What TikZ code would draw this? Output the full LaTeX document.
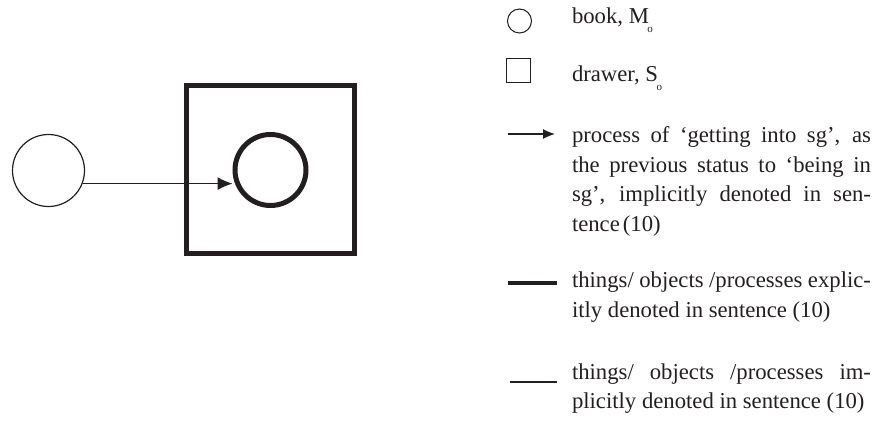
\documentclass[tikz,border=0pt]{standalone}
\usepackage{fontspec}
\setmainfont{Liberation Serif}
\usetikzlibrary{arrows.meta}
\definecolor{ink}{HTML}{231F20}
\newcommand{\jline}[1]{\hbox to 299pt{#1}}
\newcommand{\subo}{\kern-1.5pt\raisebox{-9pt}{\fontsize{11}{11}\selectfont o}}
\begin{document}
\begin{tikzpicture}[x=1pt,y=-1pt,
  lbl/.style={anchor=base west, inner sep=0pt, outer sep=0pt, font=\fontsize{22.7}{29.5}\selectfont, text=ink},
  thinround/.style={draw=ink, line width=1.2pt, circle, inner sep=0pt},
  thickround/.style={draw=ink, line width=5pt, circle, inner sep=0pt},
  thickbox/.style={draw=ink, line width=5pt, inner sep=0pt},
  thinbox/.style={draw=ink, line width=1.2pt, inner sep=0pt},
  proc/.style={draw=ink, line width=1.2pt}]
\useasboundingbox (0,0) rectangle (879,422);
% main diagram
\node[thinround, minimum size=72pt] (book) at (48.5,170.5) {};
\node[thickbox, minimum size=168pt] (drawer) at (270.5,170) {};
\node[thickround, minimum size=71pt] (bookin) at (270.5,170) {};
\draw[proc, -{Latex[length=15pt,width=13pt]}] (book.-21.7) -- (book.-21.7 -| bookin.west);
% legend symbols
\node[thinround, line width=1pt, minimum size=24pt] (lcirc) at (519.5,21) {};
\node[thinbox, minimum size=24pt] (lsq) at (518.5,70.5) {};
\coordinate (a1) at (508,134); \coordinate (a2) at (555,134);
\draw[proc, -{Latex[length=12pt,width=10pt]}] (a1) -- (a2);
\coordinate (b1) at (508,283); \coordinate (b2) at (557,283);
\draw[ink, line width=3.5pt] (b1) -- (b2);
\coordinate (c1) at (510,382); \coordinate (c2) at (557,382);
\draw[ink, line width=1.2pt] (c1) -- (c2);
% legend texts
\node[lbl] (t1) at (572,24) {book, M\subo};
\node[lbl] (t2) at (572,82) {drawer, S\subo};
\node[lbl] (t3a) at (572,143) {\jline{process of ‘getting into sg’, as}};
\node[lbl] (t3b) at (572,172.5) {\jline{the previous status to ‘being in}};
\node[lbl] (t3c) at (572,202) {\jline{sg’, implicitly denoted in sen-}};
\node[lbl] (t3d) at (572,231.5) {tence\kern3pt(10)};
\node[lbl] (t4a) at (572,288) {\jline{things/ objects /processes explic-}};
\node[lbl] (t4b) at (572,317.5) {itly denoted in sentence (10)};
\node[lbl] (t5a) at (572,379) {\jline{things/ objects /processes im-}};
\node[lbl] (t5b) at (572,408.5) {plicitly denoted in sentence (10)};
\end{tikzpicture}
\end{document}
